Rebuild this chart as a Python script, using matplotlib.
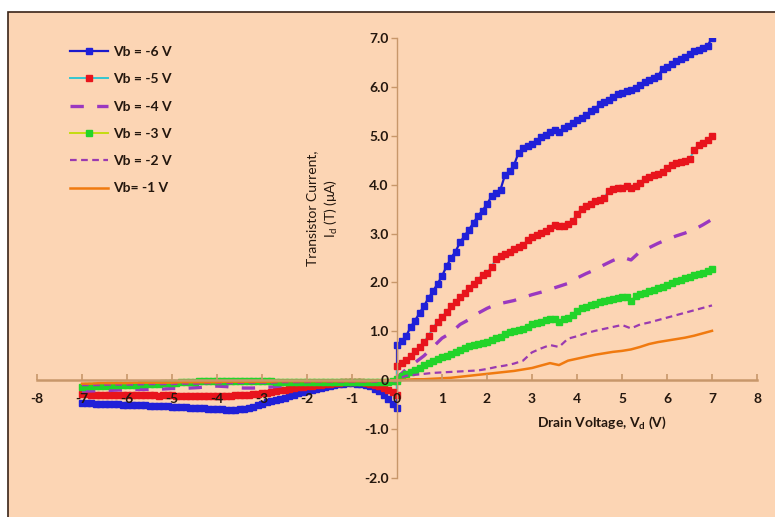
import numpy as np
import matplotlib.pyplot as plt
from matplotlib.patches import Rectangle
from matplotlib.ticker import FuncFormatter, MultipleLocator

plt.rcParams['font.family'] = ['Lato', 'DejaVu Sans']

# drain voltage grids (V): marker series sampled every 0.1 V, line series every 0.2 V
vd_fine_neg = np.round(np.arange(-7.0, 0.01, 0.1), 1)
vd_fine_pos = np.round(np.arange(0.0, 7.01, 0.1), 1)
vd_coarse_neg = np.round(np.arange(-7.0, 0.01, 0.2), 1)
vd_coarse_pos = np.round(np.arange(0.0, 7.01, 0.2), 1)

# transistor current (uA)
vb6_neg = [-0.46, -0.47, -0.47, -0.48, -0.48, -0.48, -0.49, -0.49, -0.49, -0.50,
           -0.50, -0.50, -0.51, -0.51, -0.51, -0.52, -0.52, -0.53, -0.52, -0.53,
           -0.54, -0.54, -0.55, -0.55, -0.56, -0.56, -0.57, -0.57, -0.58, -0.58,
           -0.59, -0.59, -0.60, -0.60, -0.60, -0.59, -0.58, -0.56, -0.54, -0.51,
           -0.48, -0.45, -0.43, -0.41, -0.38, -0.36, -0.33, -0.30, -0.27, -0.24,
           -0.22, -0.19, -0.17, -0.15, -0.13, -0.11, -0.09, -0.08, -0.07, -0.06,
           -0.06, -0.07, -0.08, -0.10, -0.12, -0.17, -0.23, -0.30, -0.38, -0.48,
           -0.57]
vb6_pos = [0.72, 0.80, 0.90, 1.08, 1.22, 1.37, 1.52, 1.68, 1.82, 1.97,
           2.13, 2.33, 2.50, 2.63, 2.82, 2.95, 3.08, 3.22, 3.36, 3.47,
           3.60, 3.76, 3.82, 3.90, 4.20, 4.27, 4.40, 4.65, 4.75, 4.79,
           4.84, 4.90, 4.97, 5.01, 5.07, 5.12, 5.07, 5.16, 5.21, 5.27,
           5.32, 5.37, 5.42, 5.50, 5.55, 5.64, 5.69, 5.74, 5.80, 5.85,
           5.88, 5.92, 5.93, 5.97, 6.03, 6.09, 6.15, 6.19, 6.22, 6.37,
           6.41, 6.46, 6.52, 6.57, 6.62, 6.68, 6.73, 6.76, 6.80, 6.84,
           7.00]

vb5_neg = [-0.28, -0.29, -0.30, -0.30, -0.30, -0.30, -0.31, -0.31, -0.30, -0.31,
           -0.31, -0.31, -0.31, -0.31, -0.30, -0.31, -0.31, -0.32, -0.31, -0.31,
           -0.31, -0.32, -0.32, -0.32, -0.32, -0.33, -0.33, -0.33, -0.33, -0.33,
           -0.33, -0.32, -0.32, -0.32, -0.31, -0.31, -0.30, -0.30, -0.29, -0.28,
           -0.27, -0.26, -0.24, -0.23, -0.21, -0.20, -0.18, -0.16, -0.14, -0.13,
           -0.12, -0.11, -0.10, -0.09, -0.08, -0.07, -0.06, -0.05, -0.04, -0.03,
           -0.03, -0.03, -0.04, -0.05, -0.07, -0.09, -0.12, -0.16, -0.20, -0.25,
           -0.31]
vb5_pos = [0.29, 0.35, 0.42, 0.50, 0.59, 0.68, 0.79, 0.91, 1.07, 1.20,
           1.30, 1.40, 1.51, 1.59, 1.70, 1.79, 1.89, 1.97, 2.06, 2.16,
           2.20, 2.32, 2.48, 2.55, 2.59, 2.63, 2.68, 2.72, 2.76, 2.86,
           2.92, 2.97, 3.01, 3.06, 3.11, 3.17, 3.15, 3.15, 3.19, 3.26,
           3.40, 3.50, 3.56, 3.61, 3.66, 3.69, 3.73, 3.87, 3.91, 3.93,
           3.94, 3.98, 3.93, 3.97, 4.04, 4.11, 4.15, 4.19, 4.22, 4.26,
           4.35, 4.40, 4.44, 4.47, 4.49, 4.52, 4.70, 4.82, 4.86, 4.92,
           5.00]

vb4_neg = [-0.22, -0.22, -0.21, -0.21, -0.20, -0.20, -0.19, -0.19, -0.18, -0.18,
           -0.17, -0.17, -0.16, -0.15, -0.13, -0.12, -0.13, -0.15, -0.16, -0.16,
           -0.15, -0.14, -0.12, -0.10, -0.08, -0.07, -0.06, -0.05, -0.04, -0.04,
           -0.04, -0.04, -0.05, -0.06, -0.07, -0.08]
vb4_pos = [0.05, 0.22, 0.36, 0.50, 0.68, 0.86, 0.97, 1.14, 1.24, 1.37,
           1.47, 1.55, 1.59, 1.63, 1.69, 1.75, 1.80, 1.86, 1.92, 1.98,
           2.09, 2.18, 2.26, 2.36, 2.45, 2.52, 2.46, 2.63, 2.71, 2.80,
           2.88, 2.95, 3.01, 3.08, 3.18, 3.29]

vb3_neg = [-0.13, -0.12, -0.12, -0.11, -0.11, -0.11, -0.10, -0.10, -0.10, -0.10,
           -0.09, -0.09, -0.09, -0.08, -0.08, -0.07, -0.07, -0.07, -0.06, -0.06,
           -0.05, -0.05, -0.04, -0.04, -0.03, -0.03, -0.02, -0.02, -0.02, -0.01,
           -0.01, -0.01, -0.01, -0.01, -0.02, -0.02, -0.02, -0.02, -0.02, -0.02,
           -0.02, -0.02, -0.02, -0.03, -0.03, -0.03, -0.03, -0.03, -0.03, -0.03,
           -0.03, -0.03, -0.03, -0.03, -0.03, -0.03, -0.03, -0.03, -0.03, -0.03,
           -0.03, -0.03, -0.03, -0.03, -0.03, -0.03, -0.03, -0.03, -0.03, -0.02,
           -0.01]
vb3_pos = [0.03, 0.08, 0.12, 0.17, 0.21, 0.26, 0.31, 0.36, 0.40, 0.43,
           0.47, 0.50, 0.54, 0.58, 0.62, 0.66, 0.69, 0.72, 0.74, 0.76,
           0.78, 0.82, 0.86, 0.89, 0.94, 0.98, 1.00, 1.03, 1.05, 1.09,
           1.14, 1.17, 1.20, 1.23, 1.25, 1.26, 1.19, 1.25, 1.28, 1.34,
           1.42, 1.47, 1.50, 1.53, 1.56, 1.59, 1.62, 1.64, 1.66, 1.68,
           1.70, 1.71, 1.62, 1.73, 1.76, 1.79, 1.82, 1.85, 1.88, 1.91,
           1.95, 1.98, 2.02, 2.05, 2.09, 2.12, 2.15, 2.18, 2.20, 2.24,
           2.27]

vb2_neg = [-0.10, -0.10, -0.10, -0.09, -0.09, -0.09, -0.09, -0.08, -0.08, -0.08,
           -0.08, -0.07, -0.07, -0.07, -0.06, -0.06, -0.06, -0.06, -0.05, -0.05,
           -0.05, -0.05, -0.04, -0.04, -0.04, -0.04, -0.03, -0.03, -0.03, -0.03,
           -0.03, -0.03, -0.03, -0.03, -0.02, -0.02]
vb2_pos = [0.02, 0.09, 0.11, 0.13, 0.15, 0.16, 0.17, 0.18, 0.19, 0.20,
           0.23, 0.27, 0.30, 0.34, 0.40, 0.57, 0.65, 0.72, 0.68, 0.85,
           0.90, 0.96, 1.01, 1.05, 1.09, 1.13, 1.06, 1.14, 1.18, 1.23,
           1.28, 1.33, 1.38, 1.43, 1.48, 1.53]

vb1_neg = [-0.07, -0.07, -0.06, -0.06, -0.06, -0.06, -0.05, -0.05, -0.05, -0.05,
           -0.05, -0.04, -0.04, -0.04, -0.04, -0.04, -0.03, -0.03, -0.03, -0.03,
           -0.03, -0.03, -0.02, -0.02, -0.02, -0.02, -0.02, -0.02, -0.02, -0.02,
           -0.02, -0.02, -0.02, -0.01, -0.01, 0.00]
vb1_pos = [0.00, 0.01, 0.02, 0.02, 0.03, 0.04, 0.05, 0.07, 0.09, 0.11,
           0.13, 0.15, 0.17, 0.19, 0.22, 0.25, 0.30, 0.35, 0.31, 0.40,
           0.44, 0.48, 0.52, 0.55, 0.58, 0.60, 0.63, 0.68, 0.74, 0.78,
           0.81, 0.84, 0.87, 0.91, 0.96, 1.01]

labels = ['Vb = -6 V', 'Vb = -5 V', 'Vb = -4 V', 'Vb = -3 V', 'Vb = -2 V', 'Vb= -1 V']

x_fine = np.concatenate([vd_fine_neg, vd_fine_pos])
x_coarse = np.concatenate([vd_coarse_neg, vd_coarse_pos])

fig = plt.figure(figsize=(7.75, 5.17), dpi=100)
fig.patch.set_facecolor('white')
# peach chart area with dark border on left/top
fig.patches.append(Rectangle((8 / 775, -0.05), 1.0, 1 - 12 / 517 + 0.05,
                             transform=fig.transFigure, facecolor='#FCD5B4',
                             edgecolor='#3A2418', linewidth=1.2, zorder=-10))

ax = fig.add_axes([37 / 775, 39 / 517, 720 / 775, 440 / 517])
ax.set_facecolor('none')
ax.set_zorder(5)
ax.set_axisbelow(False)

ax.plot(x_fine, np.concatenate([vb6_neg, vb6_pos]), color='#1A1ACC', lw=1.6,
        marker='s', ms=4, mfc='#2020D8', mec='#2020D8', label=labels[0])
ax.plot(x_fine, np.concatenate([vb5_neg, vb5_pos]), color='#33C6D0', lw=1.4,
        marker='s', ms=4.5, mfc='#E8141C', mec='#E8141C', label=labels[1])
ax.plot(x_coarse, np.concatenate([vb4_neg, vb4_pos]), color='#9A38C0', lw=2.4,
        dashes=(4, 4), label=labels[2])
ax.plot(x_fine, np.concatenate([vb3_neg, vb3_pos]), color='#C4DC10', lw=1.4,
        marker='s', ms=4, mfc='#22D42A', mec='#22D42A', label=labels[3])
ax.plot(x_coarse, np.concatenate([vb2_neg, vb2_pos]), color='#9A3AB0', lw=1.6,
        dashes=(3, 2), label=labels[4])
ax.plot(x_coarse, np.concatenate([vb1_neg, vb1_pos]), color='#F07A10', lw=1.8,
        label=labels[5])

ax.set_xlim(-8, 8)
ax.set_ylim(-2, 7)

for side in ['top', 'right']:
    ax.spines[side].set_visible(False)
ax.spines['left'].set_position(('data', 0))
ax.spines['bottom'].set_position(('data', 0))
ax.spines['left'].set_color('#C8976A')
ax.spines['bottom'].set_color('#C8976A')
ax.spines['bottom'].set_linewidth(1.8)
ax.spines['left'].set_linewidth(1.0)

ax.xaxis.set_major_locator(MultipleLocator(1))
ax.yaxis.set_major_locator(MultipleLocator(1))
ax.yaxis.set_major_formatter(FuncFormatter(lambda v, p: '0' if abs(v) < 1e-9 else f'{v:.1f}'))
ax.xaxis.set_major_formatter(FuncFormatter(lambda v, p: f'{int(round(v))}'))
ax.tick_params(axis='x', direction='in', length=4, width=1.2, color='#C8976A',
               pad=9, labelsize=10, labelcolor='#24170E')
ax.tick_params(axis='y', direction='out', length=4, width=1.0, color='#C8976A',
               pad=2, labelsize=10, labelcolor='#24170E')
for t in ax.get_xticklabels() + ax.get_yticklabels():
    t.set_fontweight('bold')

fig.text(537 / 775, 1 - 423 / 517, 'Drain Voltage, V$_\\mathregular{d}$ (V)',
         fontsize=10, fontweight='bold', color='#24170E', ha='left', va='center')
fig.text(323 / 775, 1 - 208 / 517, 'Transistor Current,\nI$_\\mathregular{d}$ (T) (\u03bcA)',
         fontsize=10, color='#24170E', rotation=90, ha='center', va='center',
         multialignment='center', linespacing=1.3)

leg = ax.legend(loc='upper left', bbox_to_anchor=(70 / 775, 1 - 46 / 517),
                bbox_transform=fig.transFigure, frameon=False, borderpad=0,
                borderaxespad=0, handlelength=2.75, handletextpad=0.35,
                labelspacing=1.1, numpoints=1, prop={'weight': 'bold', 'size': 10})
for t in leg.get_texts():
    t.set_color('#24170E')

fig.savefig('out.png', dpi=100)
